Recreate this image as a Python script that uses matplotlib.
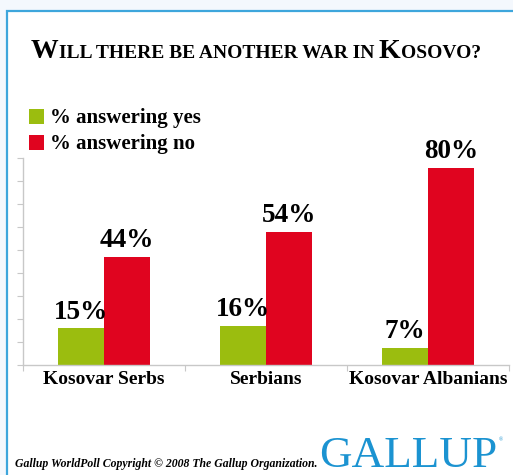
import numpy as np
import matplotlib.pyplot as plt
from matplotlib.patches import Rectangle

groups = ["Kosovar Serbs", "Serbians", "Kosovar Albanians"]
yes_pct = [15, 16, 7]
no_pct = [44, 54, 80]
series_names = ["% answering yes", "% answering no"]

GREEN = "#9bbd0f"
RED = "#e0041f"
BLUE = "#1b93d1"
W, H = 513, 475

fig = plt.figure(figsize=(W / 100, H / 100), dpi=100)
fig.patch.set_facecolor("#f4f8fd")

# white panel with a thin blue frame
fig.patches.append(Rectangle((7 / W, -0.1), 1.2, (H - 11) / H + 0.1, transform=fig.transFigure,
                             facecolor="white", edgecolor="#3ea6dc", linewidth=1.6, zorder=-5))

serif = "Liberation Serif"


def px(x, y):
    return x / W, 1 - y / H


# title in small caps: big initials, smaller capitals for the rest
title_parts = [("W", 20), ("ILL THERE BE ANOTHER WAR IN ", 14), ("K", 20), ("OSOVO?", 14)]
renderer = fig.canvas.get_renderer()
x0, y0 = px(31, 58)
for txt, size in title_parts:
    t = fig.text(x0, y0, txt, fontsize=size, fontweight="bold", family=serif,
                 ha="left", va="baseline", color="black")
    bb = t.get_window_extent(renderer)
    x0 += bb.width / W

ax = fig.add_axes([23 / W, 1 - 365 / H, (509 - 23) / W, (365 - 158) / H], zorder=2)
x = np.arange(len(groups))
bw = 0.287
ax.bar(x - bw / 2, yes_pct, bw, color=GREEN, zorder=2)
ax.bar(x + bw / 2, no_pct, bw, color=RED, zorder=2)

for offset, vals in [(-bw / 2, yes_pct), (bw / 2, no_pct)]:
    for xi, v in zip(x, vals):
        ax.annotate(f"{v}%", (xi + offset, v), xytext=(0, 2.5), textcoords="offset points",
                    ha="center", va="bottom", fontsize=19.5, fontweight="bold", family=serif)

ax.set_xlim(-0.5, 2.5)
ax.set_ylim(0, 84)
ax.set_yticks(np.linspace(0, 84, 10))
ax.set_yticklabels([])
ax.set_xticks([-0.5, 0.5, 1.5, 2.5], minor=False)
ax.set_xticklabels([])
ax.set_xticks(x, minor=True)
ax.set_xticklabels(groups, minor=True, fontsize=14, fontweight="bold", family=serif)
ax.tick_params(axis="x", which="minor", length=0, pad=4)
ax.tick_params(axis="x", which="major", length=4, color="#c8c8c8")
ax.tick_params(axis="y", length=4, color="#c8c8c8")
ax.patch.set_alpha(0)
for s in ["top", "right"]:
    ax.spines[s].set_visible(False)
for s in ["left", "bottom"]:
    ax.spines[s].set_color("#c8c8c8")
    ax.spines[s].set_linewidth(1.0)

# legend drawn as squares and labels
for i, (name, col) in enumerate(zip(series_names, [GREEN, RED])):
    top = 109 + i * 26
    fig.patches.append(Rectangle(px(29, top + 15), 15 / W, 15 / H, transform=fig.transFigure,
                                 facecolor=col, edgecolor="none"))
    fig.text(*px(50, top + 14), name, fontsize=15, fontweight="bold", family=serif,
             ha="left", va="baseline")

# footer
fig.text(*px(15, 467), "Gallup WorldPoll Copyright \u00a9 2008 The Gallup Organization.",
         fontsize=8.5, fontweight="bold", style="italic", family=serif,
         ha="left", va="baseline")
fig.text(*px(319, 467), "GALLUP", fontsize=32.5, family=serif, color=BLUE,
         ha="left", va="baseline")
fig.text(*px(499, 441), "\u00ae", fontsize=4, family=serif, color=BLUE,
         ha="left", va="baseline")

fig.savefig("out.png", dpi=100, facecolor=fig.get_facecolor())
